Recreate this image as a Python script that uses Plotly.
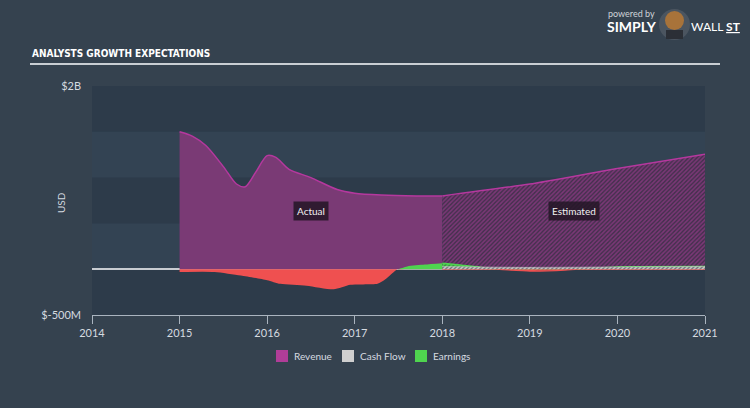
import plotly.graph_objects as go

# ---------------- data (USD billions, decimal years) ----------------
rev_act_x = [2015.0, 2015.15, 2015.3, 2015.5, 2015.65, 2015.75, 2015.87, 2016.0, 2016.1,
             2016.25, 2016.5, 2016.8, 2017.0, 2017.3, 2017.7, 2018.0]
rev_act_y = [1.50, 1.45, 1.35, 1.12, 0.93, 0.90, 1.06, 1.24, 1.22,
             1.09, 1.00, 0.87, 0.83, 0.81, 0.80, 0.80]

rev_est_x = [2018.0, 2019.0, 2020.0, 2021.0]
rev_est_y = [0.80, 0.93, 1.10, 1.255]

earn_act_x = [2015.0, 2015.4, 2015.7, 2016.0, 2016.15, 2016.45, 2016.76, 2016.95,
              2017.26, 2017.35, 2017.49, 2017.6, 2017.8, 2018.0]
earn_act_y = [-0.03, -0.03, -0.07, -0.12, -0.16, -0.18, -0.22, -0.17,
              -0.16, -0.11, 0.0, 0.03, 0.05, 0.065]

earn_est_x = [2018.0, 2018.45, 2018.6, 2019.0, 2019.4, 2019.55, 2020.0, 2021.0]
earn_est_y = [0.065, 0.02, 0.0, -0.02, -0.01, 0.0, 0.025, 0.03]

cf_est_x = [2018.0, 2019.0, 2020.0, 2021.0]
cf_est_y = [0.03, 0.02, 0.025, 0.03]

year_ticks = [2014, 2015, 2016, 2017, 2018, 2019, 2020, 2021]
y_tickvals = [2.0, -0.5]
y_ticktext = ["$2B", "$-500M"]
bands = [(1.5, 2.0), (0.5, 1.0), (-0.5, 0.0)]

legend_names = ["Revenue", "Cash Flow", "Earnings"]
legend_colors = ["#b03d98", "#cfcfcf", "#4fd44f"]

# ---------------- colours ----------------
PAPER = "#35424f"
PLOT = "#334353"
BAND = "#2d3b4a"
REV_LINE = "#b5389e"
REV_FILL = "#7a3a75"
RED = "#ef5050"
GREEN = "#4fd44f"
GREY = "#cfcfcf"
TXT = "#d6dbe0"

# layout geometry helpers (pixel -> paper)
L, R, T, B, W, H = 92, 45, 86, 93, 750, 408
PW, PH = W - L - R, H - T - B
def px(x):
    return (x - L) / PW
def py(y):
    return (H - B - y) / PH

fig = go.Figure()

def pos(v):
    return [max(a, 0.0) for a in v]

def neg(v):
    return [min(a, 0.0) for a in v]

# Revenue actual
fig.add_trace(go.Scatter(x=rev_act_x, y=rev_act_y, mode="lines", fill="tozeroy", name="Revenue",
                         line=dict(color=REV_LINE, width=1.5, shape="spline", smoothing=0.8),
                         fillcolor=REV_FILL, showlegend=False, hoverinfo="skip"))
# Revenue estimate (hatched)
fig.add_trace(go.Scatter(x=rev_est_x, y=rev_est_y, mode="lines", fill="tozeroy", name="Revenue",
                         line=dict(color=REV_LINE, width=1.5, shape="spline", smoothing=0.5),
                         fillpattern=dict(shape="/", bgcolor="#45304e", fgcolor="#7d3878",
                                          size=3, solidity=0.5, fillmode="replace"),
                         showlegend=False, hoverinfo="skip"))
# Earnings actual
fig.add_trace(go.Scatter(x=earn_act_x, y=neg(earn_act_y), mode="lines", fill="tozeroy",
                         line=dict(color=RED, width=0, shape="spline", smoothing=0.6),
                         fillcolor=RED, showlegend=False, hoverinfo="skip"))
fig.add_trace(go.Scatter(x=earn_act_x, y=pos(earn_act_y), mode="lines", fill="tozeroy",
                         line=dict(color=GREEN, width=0, shape="spline", smoothing=0.6),
                         fillcolor=GREEN, showlegend=False, hoverinfo="skip"))
# Earnings estimate
fig.add_trace(go.Scatter(x=earn_est_x, y=pos(earn_est_y), mode="lines", fill="tozeroy",
                         line=dict(color=GREEN, width=1.5, shape="spline", smoothing=0.6),
                         fillpattern=dict(shape="/", bgcolor="#3c8a45", fgcolor=GREEN,
                                          size=3, solidity=0.5, fillmode="replace"),
                         showlegend=False, hoverinfo="skip"))
fig.add_trace(go.Scatter(x=earn_est_x, y=neg(earn_est_y), mode="lines", fill="tozeroy",
                         line=dict(color=RED, width=1.2, shape="spline", smoothing=0.6),
                         fillcolor=RED, showlegend=False, hoverinfo="skip"))
# Cash flow estimate
fig.add_trace(go.Scatter(x=cf_est_x, y=cf_est_y, mode="lines", fill="tozeroy",
                         line=dict(color=GREY, width=0.5, shape="spline"),
                         fillpattern=dict(shape="/", bgcolor="#6d7278", fgcolor=GREY,
                                          size=3, solidity=0.5, fillmode="replace"),
                         showlegend=False, hoverinfo="skip"))

shapes = []
for lo, hi in bands:
    shapes.append(dict(type="rect", xref="paper", yref="y", x0=0, x1=1, y0=lo, y1=hi,
                       fillcolor=BAND, line=dict(width=0), layer="below"))
# title underline
shapes.append(dict(type="line", xref="paper", yref="paper",
                   x0=px(30), x1=px(720), y0=py(64), y1=py(64),
                   line=dict(color="#c9ced3", width=2)))
# logo emblem (simple circle with a head)
shapes.append(dict(type="circle", xref="paper", yref="paper",
                   x0=px(659), x1=px(690), y0=py(40), y1=py(9),
                   fillcolor="#4b5560", line=dict(width=0)))
shapes.append(dict(type="circle", xref="paper", yref="paper",
                   x0=px(665), x1=px(684), y0=py(30), y1=py(11),
                   fillcolor="#a8733a", line=dict(width=0)))
shapes.append(dict(type="rect", xref="paper", yref="paper",
                   x0=px(666), x1=px(683), y0=py(39), y1=py(30),
                   fillcolor="#2b2f36", line=dict(width=0)))

annotations = [
    dict(text="<b>ANALYSTS GROWTH EXPECTATIONS</b>", xref="paper", yref="paper",
         x=px(30), y=py(53), xanchor="left", yanchor="middle",
         showarrow=False, font=dict(family="DejaVu Sans Condensed", size=10, color="#ffffff")),
    dict(text="USD", xref="paper", yref="paper", x=px(61), y=py(203), textangle=-90,
         xanchor="center", yanchor="middle", showarrow=False,
         font=dict(family="Lato", size=10, color=TXT)),
    dict(text="Actual", x=2016.5, y=0.63, xref="x", yref="y", showarrow=False,
         bgcolor="rgba(35,22,38,0.85)", borderpad=3,
         font=dict(family="Lato", size=10, color="#f0f0f0")),
    dict(text="Estimated", x=2019.5, y=0.63, xref="x", yref="y", showarrow=False,
         bgcolor="rgba(35,22,38,0.85)", borderpad=3,
         font=dict(family="Lato", size=10, color="#f0f0f0")),
    dict(text="powered by", xref="paper", yref="paper",
         x=px(606), y=py(14), xanchor="left", yanchor="middle",
         showarrow=False, font=dict(family="Lato", size=9, color="#cfd3d8")),
    dict(text="<b>SIMPLY</b>", xref="paper", yref="paper",
         x=px(605), y=py(27), xanchor="left", yanchor="middle",
         showarrow=False, font=dict(family="Lato", size=14, color="#ffffff")),
    dict(text="WALL <u><b>ST</b></u>", xref="paper", yref="paper",
         x=px(689), y=py(27), xanchor="left", yanchor="middle",
         showarrow=False, font=dict(family="Lato", size=12, color="#ffffff")),
]

# manual legend (square swatch + label)
legend_x = [276, 342, 415]
for nm, col, lx in zip(legend_names, legend_colors, legend_x):
    shapes.append(dict(type="rect", xref="paper", yref="paper",
                       x0=px(lx), x1=px(lx + 12), y0=py(362), y1=py(350),
                       fillcolor=col, line=dict(width=0)))
    annotations.append(dict(text=nm, xref="paper", yref="paper", x=px(lx + 16), y=py(356),
                            xanchor="left", yanchor="middle", showarrow=False,
                            font=dict(family="Lato", size=10, color=TXT)))

fig.update_layout(
    width=W, height=H,
    margin=dict(l=L, r=R, t=T, b=B),
    paper_bgcolor=PAPER, plot_bgcolor=PLOT,
    shapes=shapes, annotations=annotations,
    showlegend=False,
    font=dict(family="Lato", color=TXT),
)
fig.update_xaxes(range=[2014, 2021], tickvals=year_ticks, ticktext=[str(t) for t in year_ticks],
                 showgrid=False, zeroline=False, showline=True, linecolor="#aab4bf", linewidth=1,
                 ticks="outside", ticklen=8, tickcolor="#aab4bf",
                 tickfont=dict(family="Lato", size=11, color=TXT))
fig.update_yaxes(range=[-0.5, 2.0], tickvals=y_tickvals, ticktext=y_ticktext,
                 showgrid=False, zeroline=True, zerolinecolor="#c8ccd1", zerolinewidth=1.5,
                 showline=False, ticks="", ticklabelstandoff=10,
                 tickfont=dict(family="Lato", size=11, color=TXT))

fig.write_html("out.html")
